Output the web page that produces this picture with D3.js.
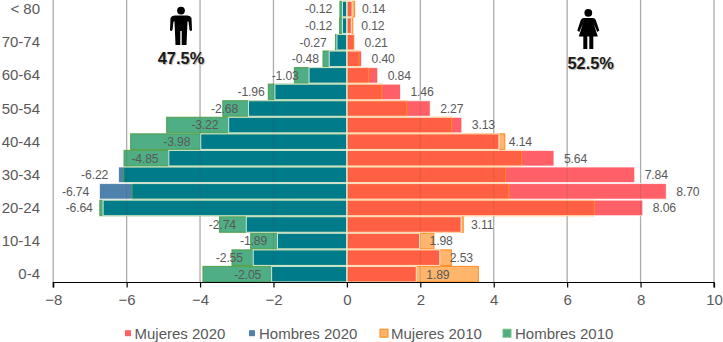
<!DOCTYPE html>
<html><head><meta charset="utf-8">
<script src="https://cdn.jsdelivr.net/npm/d3@7"></script>
<style>html,body{margin:0;padding:0;background:#fff}svg{display:block}text{font-family:"Liberation Sans",Arial,sans-serif}</style>
</head><body><svg id="c" width="723" height="342"></svg>
<script>
const categories=["< 80","75-79","70-74","65-69","60-64","55-59","50-54","45-49","40-44","35-39","30-34","25-29","20-24","15-19","10-14","5-9","0-4"];
const tickLabels=["< 80","70-74","60-64","50-54","40-44","30-34","20-24","10-14","0-4"];
const xTicks=[-8,-6,-4,-2,0,2,4,6,8,10];
const mujeres2020=[0.14,0.12,0.21,0.40,0.84,1.46,2.27,3.13,4.14,5.64,7.84,8.70,8.06,3.11,1.98,2.53,1.89];
const hombres2020=[-0.12,-0.12,-0.27,-0.48,-1.03,-1.96,-2.68,-3.22,-3.98,-4.85,-6.22,-6.74,-6.64,-2.74,-1.89,-2.55,-2.05];
const mujeres2010=[0.21,0.16,0.19,0.33,0.59,0.95,1.63,2.85,4.30,4.76,4.32,4.41,6.74,3.17,2.37,2.85,3.58];
const hombres2010=[-0.19,-0.20,-0.31,-0.65,-1.43,-2.14,-3.38,-4.91,-5.89,-6.07,-6.08,-5.85,-6.73,-3.47,-2.62,-3.13,-3.92];
const legendNames=["Mujeres 2020","Hombres 2020","Mujeres 2010","Hombres 2010"];
const svg=d3.select("#c");
const x=d3.scaleLinear().domain([-8,10]).range([53.2,714]);
const y=d3.scaleBand().domain(categories).range([0.8,282.5]);
const ink="#595959";
const gridLines=(col,op,w)=>svg.append("g").selectAll("line").data(xTicks.filter(d=>d!==0)).join("line")
 .attr("x1",d=>x(d)).attr("x2",d=>x(d)).attr("y1",0).attr("y2",282.5)
 .attr("stroke",col).attr("stroke-opacity",op).attr("stroke-width",w);
gridLines("#bfbfbf",1,1.3);
function bars(vals,fill,stroke,sw,sop){
 svg.append("g").selectAll("rect").data(vals).join("rect")
  .attr("x",d=>Math.min(x(0),x(d))).attr("width",d=>Math.abs(x(d)-x(0)))
  .attr("y",(d,i)=>y(categories[i])+0.5).attr("height",y.bandwidth()-1)
  .attr("fill",fill).attr("stroke",stroke).attr("stroke-width",sw).attr("stroke-opacity",sop);
}
const nearest=(a,b)=>a.map((d,i)=>Math.abs(d)<Math.abs(b[i])?d:b[i]);
// base fills
bars(mujeres2020,"#ff6068","none",0,1);
bars(hombres2020,"#4f81ad","none",0,1);
bars(mujeres2010,"#ffb56b","none",0,1);
bars(hombres2010,"#4fae84","none",0,1);
// where 2020 and 2010 overlap
bars(nearest(mujeres2020,mujeres2010),"#ff5f42","none",0,1);
bars(nearest(hombres2020,hombres2010),"#007b8a","none",0,1);
gridLines("#5a4a40",0.16,1.2);
// outlines
bars(mujeres2010,"none","#ff8a1e",1.1,0.9);
bars(hombres2010,"none","#4f9f45",1.1,0.9);
bars(mujeres2020,"none","#ffffff",1,0.75);
bars(hombres2020,"none","#ffffff",1,0.75);
// value labels
const lab=svg.append("g").attr("font-size",12.2).attr("fill",ink).attr("letter-spacing",-0.15);
const yMid=(d,i)=>y(categories[i])+y.bandwidth()/2+4.3;
lab.selectAll("text.m").data(mujeres2020).join("text").attr("class","m")
 .attr("x",d=>x(d)+10).attr("y",yMid).text(d=>d.toFixed(2));
lab.selectAll("text.h").data(hombres2020).join("text").attr("class","h")
 .attr("text-anchor","end").attr("x",d=>x(d)-10.4).attr("y",yMid).text(d=>d.toFixed(2));
// axes
const ax=svg.append("g").attr("transform","translate(0,282.5)")
 .call(d3.axisBottom(x).tickValues(xTicks).tickSize(5).tickPadding(7).tickFormat(d3.format("d")));
ax.select(".domain").attr("stroke","#000").attr("stroke-width",1.2).attr("d",`M${x(-8)},5V0H${x(10)}V5`);
ax.selectAll(".tick line").attr("stroke","#000").attr("stroke-width",1.2);
ax.selectAll("text").attr("font-size",15).attr("fill",ink).style("font-family",'"Liberation Sans",Arial,sans-serif');
const ay=svg.append("g").attr("font-size",15).attr("fill",ink);
ay.selectAll("text").data(tickLabels).join("text").attr("text-anchor","end").attr("x",40)
 .attr("y",d=>y(d)+y.bandwidth()/2+5).text(d=>d);
// legend
const lx=[125,249,380,503],tx=[134.5,259,391,515],sq=["#ff6068","#4f81ad","#ffb56b","#4fae84"],bd=["none","none","#ff8a1e","#7fc07a"];
const lw=[6,6,8,8];
const lg=svg.append("g");
lg.selectAll("rect").data(legendNames).join("rect").attr("x",(d,i)=>lx[i]).attr("y",(d,i)=>333.2-lw[i]/2).attr("width",(d,i)=>lw[i]).attr("height",(d,i)=>lw[i])
 .attr("fill",(d,i)=>sq[i]).attr("stroke",(d,i)=>bd[i]);
lg.selectAll("text").data(legendNames).join("text").attr("x",(d,i)=>tx[i]).attr("y",338.5)
 .attr("font-size",15).attr("fill",ink).text(d=>d);
// icons
function man(cx,top){const g=svg.append("g").attr("transform",`translate(${cx},${top})`).attr("fill","#000");
 g.append("circle").attr("cx",0).attr("cy",3.6).attr("r",3.9);
 g.append("path").attr("d","M-6.5,8.5Q-9.5,8.5-10.5,11L-11,23Q-10,25-8.5,23L-7.5,14.5L-6.5,14.5L-5.5,38L-0.7,38L-0.7,24L0.7,24L0.7,38L5.5,38L6.5,14.5L7.5,14.5L8.5,23Q10,25,11,23L10.5,11Q9.5,8.5,6.5,8.5Z");}
function woman(cx,top){const g=svg.append("g").attr("transform",`translate(${cx},${top})`).attr("fill","#000");
 g.append("circle").attr("cx",0).attr("cy",3.8).attr("r",3.9);
 g.append("path").attr("d","M-4.5,9Q-6.5,9-7.5,11L-11,21.5L-9,23L-5.5,15L-9.5,27.5L-5,27.5L-5,40L-1,40L-1,27.5L1,27.5L1,40L5,40L5,27.5L9.5,27.5L5.5,15L9,23L11,21.5L7.5,11Q6.5,9,4.5,9Z");}
man(181,7);woman(588.3,9);
const pct=[["47.5%",181,64],["52.5%",590.7,69]];
svg.append("g").selectAll("text").data(pct).join("text").attr("x",d=>d[1]).attr("y",d=>d[2])
 .attr("text-anchor","middle").attr("font-size",16.4).attr("font-weight",700).attr("fill","#1a1a1a")
 .style("text-shadow","1px 1px 1px #b5b5b5").text(d=>d[0]);
</script></body></html>
